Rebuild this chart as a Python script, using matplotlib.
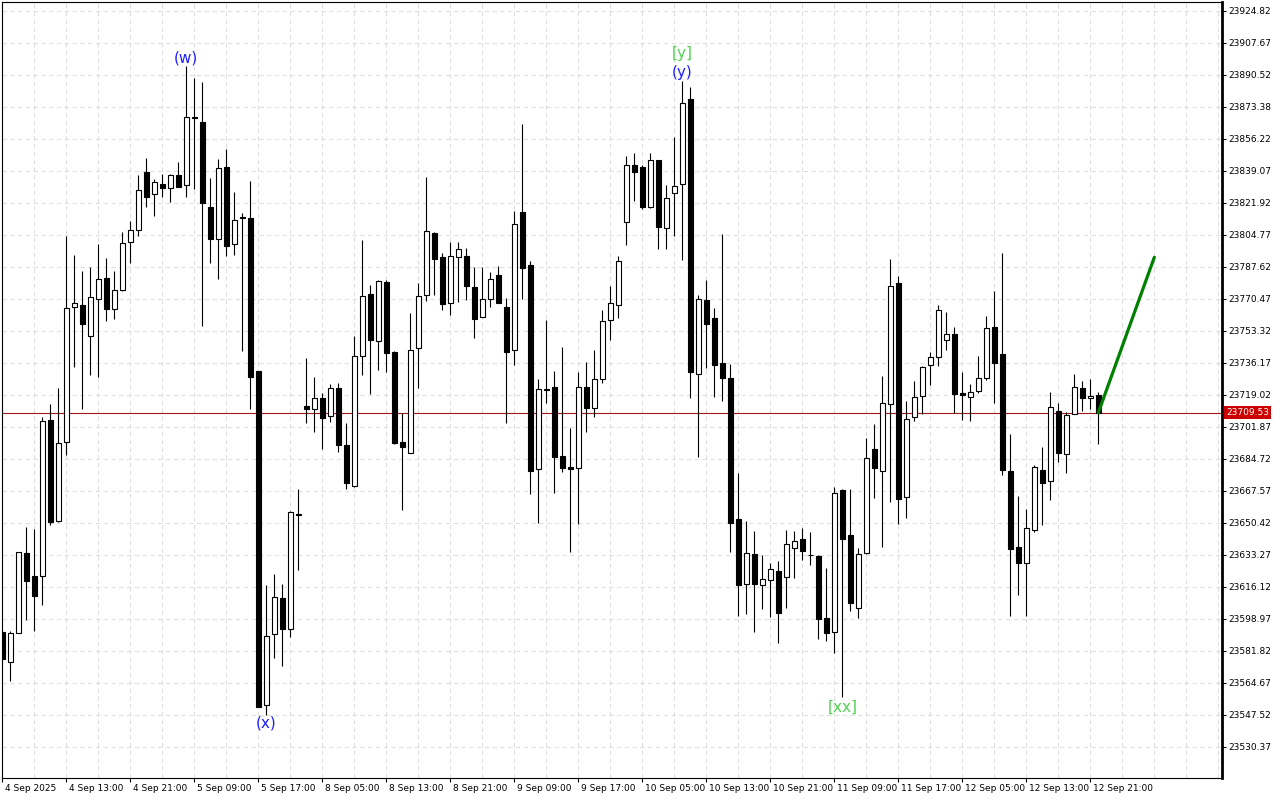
import matplotlib
matplotlib.use("Agg")
import matplotlib.pyplot as plt
import numpy as np
from matplotlib.transforms import blended_transform_factory, ScaledTranslation

# ---------------- data (hourly candles) ----------------
opens = [
    23592.2, 23576.1, 23591.3, 23634.2, 23622.0, 23622.2, 23705.5, 23651.5, 23693.7, 23766.0,
    23767.1, 23750.8, 23770.6, 23781.6, 23765.3, 23775.3, 23800.9, 23807.4, 23838.4, 23826.5,
    23832.3, 23829.8, 23836.8, 23831.4, 23867.9, 23865.5, 23819.8, 23802.8, 23841.2, 23799.8,
    23814.4, 23813.7, 23731.7, 23552.7, 23590.8, 23610.2, 23593.5, 23655.4, 23713.1, 23711.4,
    23717.3, 23707.6, 23722.6, 23692.1, 23670.4, 23739.8, 23773.0, 23747.8, 23779.4, 23742.2,
    23693.7, 23687.8, 23744.0, 23772.5, 23805.7, 23793.0, 23768.5, 23792.8, 23793.5, 23776.9,
    23760.7, 23770.3, 23783.3, 23766.2, 23743.0, 23816.9, 23788.7, 23679.2, 23722.1, 23723.5,
    23686.5, 23680.3, 23679.7, 23723.5, 23712.2, 23727.4, 23759.1, 23767.1, 23811.9, 23842.1,
    23841.1, 23819.9, 23844.8, 23808.4, 23827.1, 23831.9, 23877.7, 23730.4, 23769.7, 23760.2,
    23736.0, 23727.9, 23652.8, 23617.7, 23633.7, 23617.3, 23619.7, 23624.9, 23621.5, 23637.1,
    23642.1, 23633.2, 23632.7, 23599.3, 23591.8, 23668.1, 23644.0, 23605.0, 23634.2, 23689.9,
    23678.4, 23714.0, 23778.9, 23664.2, 23707.1, 23718.3, 23734.9, 23739.2, 23748.3, 23751.6,
    23720.1, 23717.8, 23721.0, 23728.0, 23755.3, 23740.8, 23678.1, 23637.4, 23628.8, 23646.5,
    23678.7, 23672.8, 23710.3, 23687.2, 23708.7, 23722.6, 23717.3, 23718.9]

highs = [
    23593.1, 23592.5, 23635.0, 23648.1, 23647.0, 23707.4, 23714.2, 23722.6, 23804.2, 23794.1,
    23785.5, 23787.5, 23799.9, 23792.3, 23785.5, 23806.2, 23812.3, 23837.0, 23846.3, 23834.9,
    23837.7, 23837.7, 23843.9, 23895.1, 23888.8, 23886.7, 23835.3, 23845.6, 23850.9, 23827.9,
    23816.5, 23833.7, 23731.7, 23617.2, 23622.9, 23617.7, 23656.7, 23668.6, 23738.8, 23728.7,
    23720.1, 23724.8, 23725.3, 23704.0, 23750.6, 23802.1, 23778.0, 23780.6, 23780.5, 23742.8,
    23709.5, 23763.0, 23779.0, 23835.9, 23806.2, 23795.0, 23801.0, 23801.0, 23797.8, 23787.6,
    23787.6, 23784.8, 23788.2, 23770.8, 23817.6, 23864.3, 23790.7, 23727.6, 23759.2, 23731.9,
    23744.7, 23701.5, 23731.3, 23736.7, 23743.1, 23764.6, 23777.4, 23793.5, 23846.9, 23848.6,
    23842.1, 23848.6, 23844.8, 23831.4, 23857.1, 23887.3, 23884.2, 23772.5, 23780.4, 23765.6,
    23805.5, 23735.4, 23677.4, 23651.7, 23646.3, 23633.2, 23629.0, 23630.2, 23646.9, 23646.1,
    23647.5, 23645.7, 23633.0, 23626.1, 23669.6, 23668.4, 23668.6, 23636.9, 23695.8, 23703.6,
    23729.4, 23791.9, 23782.6, 23715.6, 23726.7, 23734.6, 23741.9, 23767.1, 23763.3, 23755.3,
    23731.2, 23724.8, 23739.8, 23761.2, 23774.6, 23795.0, 23698.0, 23664.9, 23657.8, 23681.3,
    23691.0, 23720.5, 23714.6, 23709.7, 23730.1, 23726.4, 23727.4, 23720.5]

lows = [
    23575.9, 23565.7, 23591.3, 23598.4, 23592.7, 23606.5, 23649.3, 23651.1, 23686.9, 23734.2,
    23711.5, 23729.7, 23728.8, 23758.8, 23759.9, 23774.8, 23789.9, 23804.4, 23819.8, 23814.7,
    23824.9, 23822.6, 23830.7, 23825.3, 23829.5, 23755.8, 23789.5, 23781.4, 23793.5, 23794.0,
    23742.4, 23711.5, 23551.6, 23547.5, 23578.2, 23573.9, 23589.5, 23625.4, 23703.9, 23699.4,
    23689.9, 23704.7, 23688.6, 23668.5, 23669.9, 23729.9, 23719.7, 23732.6, 23731.5, 23692.6,
    23657.4, 23687.8, 23722.6, 23769.6, 23772.5, 23764.7, 23762.1, 23769.0, 23770.1, 23749.7,
    23760.7, 23766.3, 23768.5, 23704.2, 23735.3, 23770.6, 23666.1, 23650.6, 23714.9, 23666.7,
    23677.9, 23635.0, 23649.7, 23699.4, 23707.4, 23725.6, 23748.5, 23760.4, 23799.6, 23823.2,
    23818.9, 23819.4, 23797.4, 23797.4, 23804.4, 23791.4, 23717.4, 23685.8, 23733.4, 23717.9,
    23716.0, 23634.8, 23600.6, 23601.4, 23592.1, 23604.4, 23600.0, 23586.2, 23604.8, 23620.7,
    23630.6, 23627.8, 23588.1, 23587.3, 23580.6, 23557.0, 23603.4, 23599.3, 23633.6, 23664.0,
    23637.7, 23661.8, 23650.0, 23653.3, 23705.2, 23709.0, 23724.5, 23734.7, 23743.0, 23709.2,
    23705.8, 23705.2, 23719.9, 23726.9, 23714.9, 23676.3, 23600.7, 23612.0, 23600.7, 23645.4,
    23649.2, 23662.6, 23682.9, 23677.1, 23708.7, 23710.3, 23711.4, 23692.6]

closes = [
    23577.4, 23591.3, 23634.7, 23619.5, 23611.5, 23704.9, 23651.1, 23693.1, 23765.5, 23768.2,
    23757.2, 23771.4, 23781.0, 23765.3, 23775.1, 23800.3, 23807.3, 23829.1, 23825.3, 23833.0,
    23830.2, 23836.8, 23830.7, 23867.9, 23867.7, 23821.9, 23802.4, 23840.7, 23799.1, 23812.6,
    23814.1, 23728.5, 23551.8, 23589.7, 23610.6, 23593.8, 23656.2, 23654.5, 23711.4, 23717.3,
    23706.9, 23722.6, 23692.4, 23671.7, 23739.8, 23771.9, 23748.3, 23780.0, 23741.7, 23693.1,
    23691.0, 23743.0, 23771.9, 23806.8, 23792.1, 23768.0, 23793.5, 23797.1, 23777.6, 23759.9,
    23770.3, 23781.0, 23768.5, 23742.2, 23810.5, 23787.2, 23678.4, 23722.1, 23721.8, 23686.0,
    23679.7, 23679.2, 23723.1, 23712.2, 23727.8, 23758.8, 23768.5, 23790.7, 23842.1, 23838.7,
    23819.9, 23844.8, 23809.2, 23824.4, 23831.2, 23875.7, 23731.4, 23770.7, 23757.0, 23735.0,
    23727.9, 23650.4, 23617.3, 23634.2, 23617.7, 23620.5, 23625.8, 23602.0, 23639.3, 23640.5,
    23635.6, 23633.0, 23599.1, 23591.3, 23666.3, 23642.0, 23607.7, 23633.6, 23685.1, 23680.1,
    23714.6, 23777.3, 23663.4, 23706.3, 23717.8, 23733.9, 23739.2, 23764.4, 23751.6, 23719.6,
    23718.9, 23720.8, 23728.0, 23754.8, 23736.3, 23678.7, 23636.3, 23628.8, 23647.6, 23680.3,
    23671.7, 23712.4, 23687.8, 23708.1, 23723.1, 23717.3, 23718.3, 23709.53]

time_labels = ["4 Sep 2025", "4 Sep 13:00", "4 Sep 21:00", "5 Sep 09:00", "5 Sep 17:00",
               "8 Sep 05:00", "8 Sep 13:00", "8 Sep 21:00", "9 Sep 09:00", "9 Sep 17:00",
               "10 Sep 05:00", "10 Sep 13:00", "10 Sep 21:00", "11 Sep 09:00", "11 Sep 17:00",
               "12 Sep 05:00", "12 Sep 13:00", "12 Sep 21:00"]
label_step = 8

price_labels = ["23530.37", "23547.52", "23564.67", "23581.82", "23598.97", "23616.12",
                "23633.27", "23650.42", "23667.57", "23684.72", "23701.87", "23719.02",
                "23736.17", "23753.32", "23770.47", "23787.62", "23804.77", "23821.92",
                "23839.07", "23856.22", "23873.38", "23890.52", "23907.67", "23924.82"]

# wave labels: text, bar index, anchored at high ('H') or low ('L')
wave_texts = ["(w)", "(x)", "[y]", "(y)", "[xx]"]
wave_bars = [23, 33, 85, 85, 105]
wave_anchor = ["H", "L", "H", "H", "L"]
wave_colors = ["#1f1fff", "#1f1fff", "#4fd34f", "#1f1fff", "#4fd34f"]
wave_offsets = [6.2, -5.8, 19.5, 5.8, -7.0]   # points

# projection line
proj_bar = 144
proj_price = 23792.8

# ---------------- figure ----------------
W, H = 1280, 800
fig = plt.figure(figsize=(W / 100, H / 100), dpi=100)
fig.patch.set_facecolor("white")
ax = fig.add_axes([2 / W, 22 / H, 1220 / W, 776 / H])
ax.set_facecolor("white")

n = len(closes)
x = np.arange(n)
o = np.array(opens); c = np.array(closes); hi = np.array(highs); lo = np.array(lows)

ax.set_xlim(-0.04, 152.46)
ax.set_ylim(23513.75, 23929.64)

# wicks
ax.vlines(x, lo, hi, color="black", linewidth=0.8, zorder=3)
# bodies
bottoms = np.minimum(o, c)
heights = np.maximum(np.abs(c - o), 0.15)
fills = ["white" if cc > oo else "black" for oo, cc in zip(o, c)]
ax.bar(x, heights, bottom=bottoms, width=0.62, color=fills, edgecolor="black",
       linewidth=0.8, zorder=4)

# current price line
ax.axhline(c[-1], color="#a01818", linewidth=0.8, zorder=2)

# projection
ax.plot([x[-1], proj_bar], [c[-1], proj_price], color="#008000", linewidth=2.3,
        solid_capstyle="round", zorder=6)

# wave labels
for t, b, a, col, off in zip(wave_texts, wave_bars, wave_anchor, wave_colors, wave_offsets):
    yv = hi[b] if a == "H" else lo[b]
    ax.annotate(t, xy=(b, yv), xytext=(0, off), textcoords="offset points",
                ha="center", va="center", color=col, fontsize=11, zorder=7)

# y axis on right
ax.yaxis.tick_right()
ax.set_yticks([float(s) for s in price_labels])
ax.set_yticklabels(price_labels)
ax.tick_params(axis="y", direction="out", length=3, width=0.8, pad=1.5,
               labelsize=6.5, colors="black")

# x axis
major = list(range(0, n, label_step))[:len(time_labels)]
ax.set_xticks(major)
ax.set_xticklabels(time_labels)
minor = [v for v in range(0, 153, 4) if v not in major]
ax.set_xticks(minor, minor=True)
ax.tick_params(axis="x", which="major", direction="out", length=3, width=0.8,
               pad=1.5, labelsize=6.5, colors="black")
ax.tick_params(axis="x", which="minor", length=0)
shift = ScaledTranslation(2 / 72, 0, fig.dpi_scale_trans)
for lab in ax.get_xticklabels():
    lab.set_horizontalalignment("left")
    lab.set_transform(lab.get_transform() + shift)

ax.grid(True, which="both", color="#dedede", linestyle=(0, (4, 3)), linewidth=0.8, zorder=0)
ax.set_axisbelow(True)

for s in ["left", "bottom", "top"]:
    ax.spines[s].set_color("black")
    ax.spines[s].set_linewidth(0.8)
ax.spines["right"].set_color("black")
ax.spines["right"].set_linewidth(2.0)

# price tag
tr = blended_transform_factory(ax.transAxes, ax.transData)
ax.text(1.0, c[-1], "%.2f" % c[-1], transform=tr + ScaledTranslation(3 / 72, 0, fig.dpi_scale_trans),
        ha="left", va="center", color="white", fontsize=6.5, zorder=10,
        bbox=dict(boxstyle="square,pad=0.25", fc="#cc0000", ec="none"), clip_on=False)

fig.savefig("out.png", dpi=100, facecolor="white")
